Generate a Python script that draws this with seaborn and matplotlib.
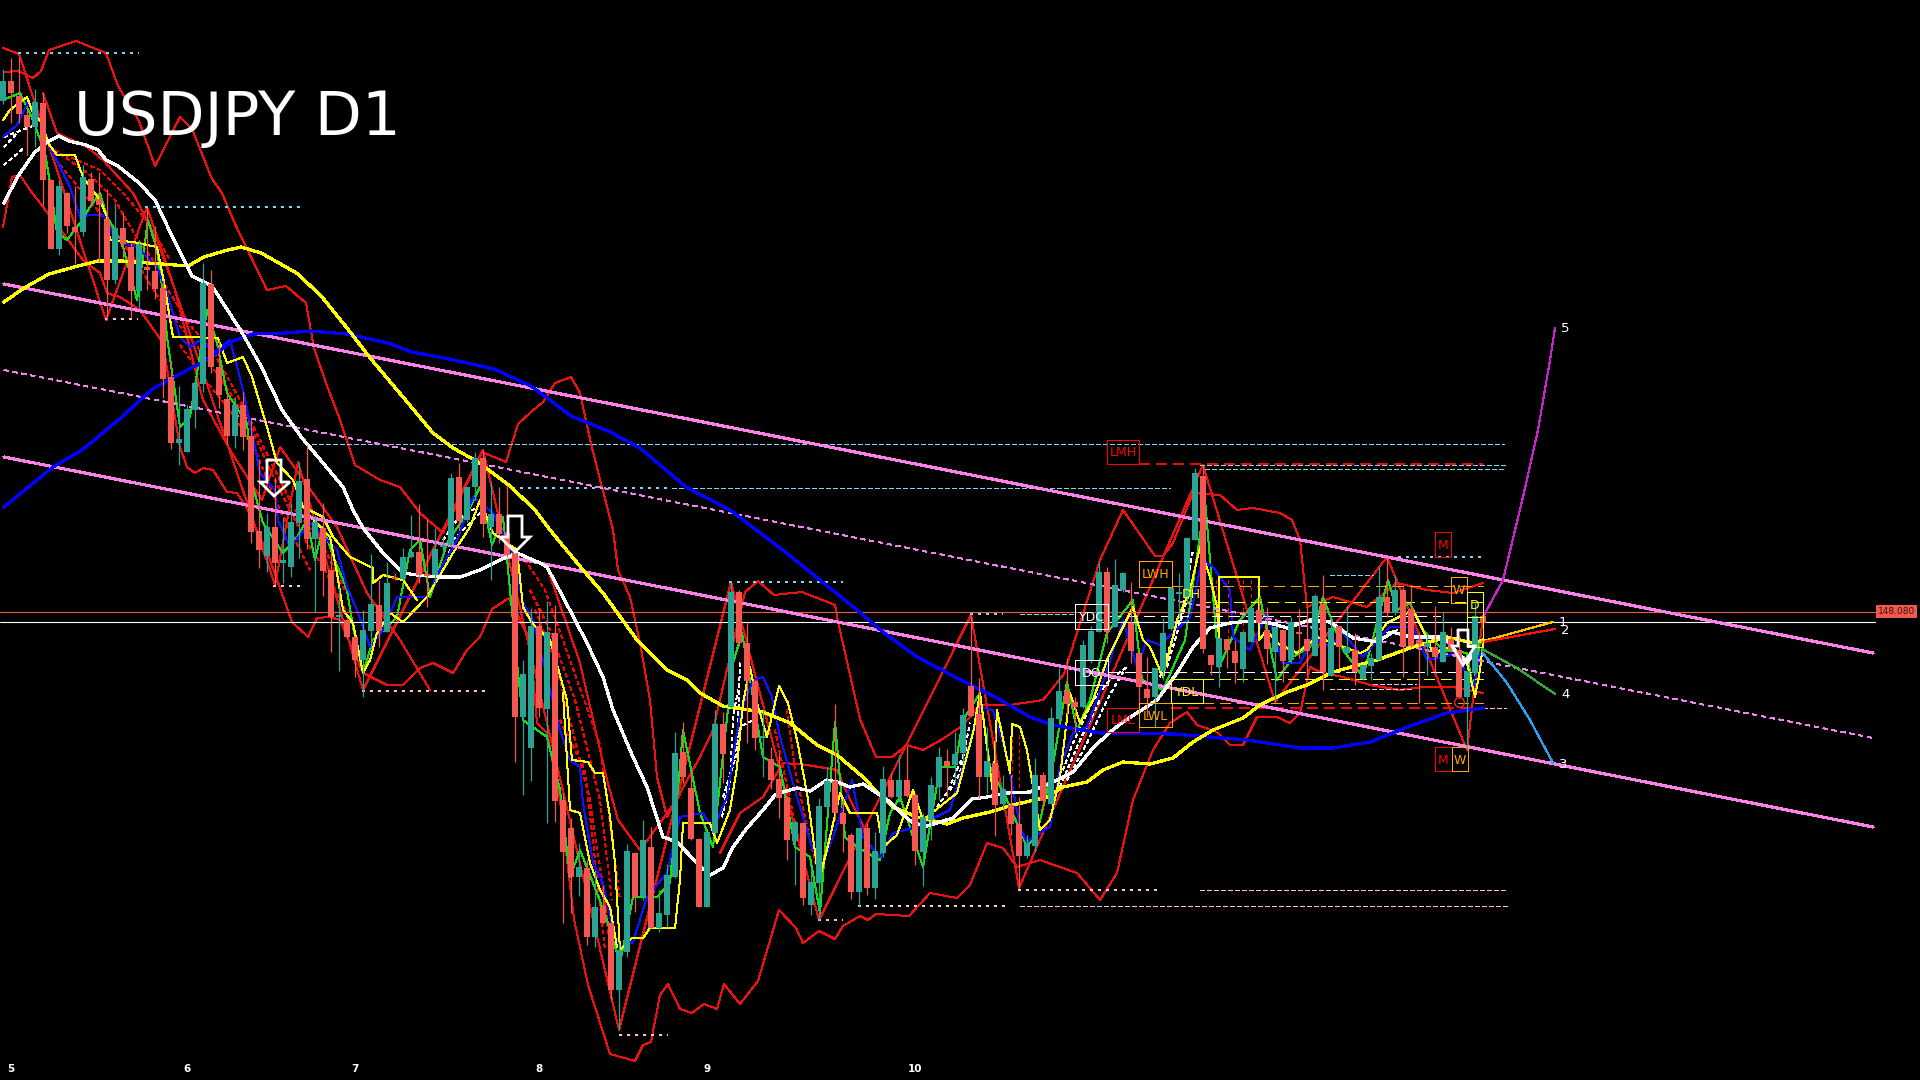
import matplotlib
matplotlib.use('Agg')
import matplotlib.pyplot as plt
import numpy as np
import seaborn as sns

# candles (vertical unit = chart row, grows downwards)
dirs = ('GRRRGRRGRR' 'GRRRGRRGRR' 'RRGGGGRRRG' 'RRRGRGGGRG' 'RRGRRGGRGR' 'GGRRGGGRGG'
        'RGRRRGGRGR' 'RRGRGRRGGR' 'GRGGGRRRGG' 'RGRRRGRRRG' 'RGGGRRRGRG' 'GRGRRGGGRG'
        'GRRGRGRRGG' 'RGGRRGGGRG' 'GRRRGGGGGG' 'RRGRRGGRRG' 'RGRRGRGRGR' 'GGGRGRRRGR' 'GRRGGR')
wick_top = [69, 58, 57, 110, 89, 93, 180, 180, 192, 186, 165, 172, 172, 189, 203, 213, 242, 240, 207, 226,
            280, 362, 386, 405, 377, 263, 270, 340, 392, 397, 392, 420, 460, 513, 477, 518, 503, 462, 445, 515,
            503, 550, 587, 618, 636, 610, 554, 580, 562, 573, 548, 515, 504, 519, 528, 537, 473, 463, 487, 452,
            450, 483, 487, 485, 552, 660, 608, 608, 601, 605, 793, 818, 843, 860, 870, 885, 923, 943, 844, 852,
            820, 827, 890, 864, 732, 722, 771, 838, 832, 710, 712, 582, 590, 622, 680, 710, 747, 753, 797, 821,
            822, 868, 798, 767, 704, 798, 833, 828, 823, 832, 766, 773, 755, 746, 793, 813, 777, 747, 749, 732,
            708, 615, 678, 727, 733, 775, 775, 797, 835, 758, 772, 707, 668, 658, 697, 640, 626, 562, 567, 559,
            572, 582, 653, 657, 668, 618, 588, 573, 537, 468, 465, 655, 638, 639, 640, 632, 608, 597, 607, 627,
            630, 617, 609, 607, 594, 575, 617, 626, 606, 633, 665, 653, 566, 557, 575, 587, 587, 633, 632, 606,
            612, 627, 635, 671, 602, 616]
body_top = [81, 81, 96, 115, 102, 103, 180, 186, 193, 227, 177, 179, 199, 219, 228, 228, 247, 244, 267, 271,
            288, 377, 439, 409, 383, 283, 284, 367, 399, 405, 405, 436, 531, 527, 527, 560, 522, 481, 479, 522,
            528, 570, 615, 620, 637, 630, 604, 605, 583, 577, 557, 552, 552, 574, 549, 545, 478, 477, 487, 458,
            458, 514, 514, 533, 553, 674, 626, 626, 632, 633, 800, 828, 867, 868, 907, 906, 923, 950, 851, 853,
            840, 847, 913, 875, 753, 752, 788, 839, 832, 724, 724, 592, 592, 643, 681, 736, 759, 779, 797, 822,
            823, 882, 806, 781, 781, 813, 835, 828, 828, 851, 779, 780, 780, 780, 795, 817, 785, 757, 761, 754,
            715, 686, 714, 761, 763, 789, 805, 824, 844, 775, 775, 718, 691, 691, 702, 645, 631, 572, 572, 585,
            573, 623, 653, 689, 668, 633, 588, 592, 538, 473, 476, 655, 638, 639, 651, 632, 608, 610, 630, 627,
            630, 622, 632, 639, 596, 604, 628, 626, 647, 650, 665, 658, 597, 597, 590, 590, 609, 640, 643, 647,
            632, 639, 650, 671, 616, 616]
body_bot = [101, 93, 114, 127, 127, 180, 249, 249, 226, 232, 232, 201, 205, 280, 280, 244, 291, 291, 270, 289,
            379, 443, 443, 452, 410, 384, 367, 395, 436, 436, 437, 532, 550, 556, 563, 563, 567, 523, 539, 539,
            571, 617, 617, 637, 660, 660, 631, 631, 632, 579, 579, 557, 575, 576, 575, 547, 545, 521, 520, 487,
            524, 527, 534, 555, 717, 717, 748, 708, 709, 801, 852, 877, 877, 937, 937, 923, 990, 990, 952, 897,
            896, 928, 928, 915, 877, 777, 839, 907, 907, 833, 754, 707, 643, 681, 738, 738, 780, 798, 840, 841,
            898, 905, 883, 807, 813, 824, 892, 892, 888, 888, 853, 797, 797, 796, 851, 852, 820, 787, 766, 765,
            753, 716, 777, 777, 805, 804, 824, 856, 856, 846, 801, 804, 719, 704, 707, 707, 660, 632, 632, 627,
            590, 651, 687, 698, 697, 671, 629, 594, 597, 540, 649, 665, 667, 650, 663, 669, 642, 623, 649, 652,
            661, 660, 634, 651, 656, 672, 676, 647, 653, 672, 679, 666, 660, 613, 613, 647, 646, 644, 647, 657,
            662, 650, 697, 697, 673, 623]
wick_bot = [104, 123, 123, 155, 147, 206, 249, 255, 233, 264, 236, 207, 262, 320, 284, 258, 317, 309, 290, 299,
            398, 449, 465, 452, 428, 392, 373, 408, 444, 448, 450, 543, 568, 572, 585, 583, 577, 558, 549, 612,
            596, 652, 671, 638, 677, 697, 648, 647, 632, 580, 580, 558, 583, 607, 585, 553, 547, 530, 522, 500,
            537, 580, 543, 557, 762, 795, 781, 717, 823, 822, 923, 913, 896, 945, 947, 924, 1000, 1030, 957, 912,
            900, 928, 932, 927, 878, 783, 840, 907, 907, 835, 783, 708, 646, 743, 750, 777, 789, 818, 860, 885,
            905, 915, 920, 810, 820, 852, 899, 906, 895, 899, 857, 798, 802, 797, 865, 886, 840, 800, 797, 783,
            763, 717, 798, 793, 836, 808, 835, 888, 858, 852, 810, 804, 720, 715, 732, 708, 663, 632, 643, 627,
            592, 663, 708, 717, 727, 680, 630, 617, 603, 540, 653, 675, 687, 668, 683, 682, 642, 623, 664, 702,
            682, 663, 658, 675, 656, 690, 676, 668, 654, 685, 680, 680, 660, 617, 615, 677, 647, 703, 675, 672,
            662, 652, 698, 750, 674, 624]

# month labels and the bars they sit on
month_bars = [1, 23, 44, 67, 88, 114]
month_names = ['5', '6', '7', '8', '9', '10']

# moving averages
ma_white = [(4, 203), (18, 176), (35, 152), (49, 141), (59, 136), (69, 141), (86, 145), (98, 150), (106, 160), (118, 166),
            (139, 183), (155, 200), (171, 234), (192, 276), (212, 286), (241, 331), (261, 366), (282, 410), (302, 438),
            (323, 463), (343, 487), (353, 510), (363, 528), (383, 553), (403, 573), (417, 575), (440, 577), (460, 577),
            (480, 570), (500, 560), (517, 553), (540, 563), (547, 567), (563, 597), (587, 643), (603, 677), (613, 710),
            (633, 757), (647, 787), (663, 837), (677, 842), (697, 863), (710, 875), (723, 868), (733, 847), (747, 828),
            (763, 810), (775, 795), (783, 792), (797, 788), (810, 791), (827, 780), (837, 782), (850, 787), (863, 784),
            (877, 793), (890, 802), (900, 812), (913, 823), (927, 826), (953, 818), (972, 799), (987, 797), (1007, 793),
            (1030, 792), (1057, 780), (1073, 772), (1093, 748), (1110, 732), (1123, 722), (1157, 700), (1177, 673),
            (1193, 647), (1210, 628), (1230, 623), (1250, 621), (1270, 623), (1287, 628), (1310, 620), (1330, 622),
            (1353, 638), (1377, 642), (1393, 632), (1410, 637), (1443, 637), (1457, 652), (1467, 663), (1477, 647)]
ma_yellow = [(4, 302), (24, 288), (49, 274), (78, 266), (98, 261), (122, 261), (188, 266), (204, 257), (224, 251), (241, 247),
             (261, 253), (286, 267), (298, 274), (322, 297), (347, 328), (371, 359), (408, 403), (433, 433), (453, 448),
             (478, 462), (510, 486), (535, 510), (550, 530), (583, 570), (603, 593), (637, 640), (667, 670), (687, 680),
             (700, 693), (723, 706), (763, 712), (790, 723), (817, 745), (837, 755), (863, 777), (877, 792), (893, 807),
             (917, 817), (947, 824), (963, 818), (990, 812), (1013, 805), (1047, 797), (1063, 787), (1087, 782), (1103, 770),
             (1123, 762), (1150, 764), (1173, 758), (1193, 742), (1213, 730), (1243, 718), (1260, 705), (1287, 692),
             (1307, 685), (1333, 672), (1377, 660), (1413, 647), (1447, 637), (1473, 643), (1483, 640)]
ma_blue = [(4, 507), (53, 467), (82, 450), (122, 417), (151, 390), (180, 374), (208, 359), (233, 341), (253, 334), (286, 333),
           (310, 331), (347, 334), (388, 343), (412, 352), (449, 359), (494, 369), (531, 386), (571, 416), (608, 431),
           (640, 448), (686, 487), (730, 510), (784, 551), (820, 580), (857, 610), (883, 632), (917, 657), (957, 678),
           (997, 698), (1030, 717), (1053, 725), (1100, 733), (1173, 734), (1247, 740), (1300, 748), (1333, 748),
           (1370, 742), (1413, 725), (1447, 713), (1483, 708)]

# thin red bands
band_upper = [(4, 72), (18, 71), (33, 78), (41, 71), (49, 50), (76, 41), (106, 53), (118, 86), (139, 121), (155, 166), (180, 117),
              (192, 129), (212, 179), (222, 193), (235, 224), (267, 290), (286, 286), (306, 303), (314, 348), (327, 386),
              (339, 417), (355, 465), (380, 480), (400, 487), (420, 513), (443, 533), (482, 452), (506, 462), (518, 424),
              (531, 412), (543, 402), (555, 383), (571, 377), (580, 393), (592, 448), (613, 530), (618, 570), (630, 597),
              (640, 643), (650, 700), (657, 777), (667, 817), (680, 793), (700, 757), (713, 730), (745, 592), (758, 581),
              (774, 595), (802, 592), (835, 605), (839, 626), (860, 719), (876, 757), (892, 757), (907, 745), (923, 750),
              (941, 740), (962, 726), (980, 705), (1010, 705), (1043, 700), (1064, 674), (1100, 560), (1123, 510),
              (1137, 530), (1155, 556), (1163, 556), (1173, 543), (1193, 493), (1220, 495), (1237, 510), (1253, 508),
              (1280, 513), (1292, 520), (1300, 540), (1307, 607), (1333, 597), (1367, 607), (1397, 583), (1427, 590),
              (1453, 593), (1483, 583)]
band_lower = [(3, 227), (12, 177), (20, 175), (30, 190), (63, 233), (83, 260), (100, 273), (107, 293), (120, 297), (140, 310),
              (163, 343), (172, 400), (180, 447), (187, 467), (195, 473), (203, 468), (213, 470), (227, 492), (237, 493),
              (247, 508), (270, 560), (292, 622), (308, 637), (317, 618), (330, 617), (340, 620), (363, 673), (387, 685),
              (403, 685), (420, 668), (433, 663), (453, 673), (467, 650), (480, 637), (492, 609), (509, 598), (530, 640),
              (537, 723), (547, 733), (560, 800), (570, 885), (574, 919), (588, 985), (610, 1054), (635, 1061), (643, 1045),
              (651, 1042), (660, 995), (668, 984), (680, 1009), (692, 1013), (704, 1004), (717, 1009), (724, 984), (740, 1004),
              (758, 981), (779, 910), (796, 928), (803, 943), (819, 931), (835, 939), (843, 926), (860, 916), (868, 920),
              (876, 914), (909, 916), (930, 893), (957, 898), (970, 885), (987, 843), (1003, 848), (1017, 867), (1040, 860),
              (1077, 873), (1100, 900), (1117, 873), (1133, 800), (1153, 750), (1170, 723), (1187, 712), (1197, 725),
              (1217, 732), (1230, 745), (1243, 745), (1257, 717), (1277, 717), (1290, 723), (1300, 713), (1310, 667),
              (1320, 672), (1347, 678), (1370, 685), (1400, 690), (1423, 687), (1453, 687), (1483, 693)]
band_mid_a = [(43, 93), (57, 133), (87, 147), (103, 160), (133, 193), (157, 240), (175, 290), (203, 400), (230, 450), (262, 500),
              (280, 447), (337, 527), (367, 593), (400, 640), (430, 690)]
band_mid_b = [(547, 567), (580, 663), (607, 780), (618, 820), (640, 850), (660, 823), (680, 795)]
band_mid_c = [(720, 853), (740, 813), (763, 797), (783, 763), (807, 765), (837, 770), (847, 793), (865, 830)]
zigzag = [(3, 48), (19, 54), (106, 320), (147, 207), (275, 585), (298, 462), (363, 690), (483, 450), (619, 1030), (731, 582),
          (819, 920), (971, 615), (1019, 888), (1203, 465), (1275, 702), (1387, 557), (1467, 750), (1483, 616)]

# thin fast lines following the candles
thin_yellow_a = [(3, 120), (10, 110), (20, 102), (27, 97), (33, 113), (42, 123), (48, 143), (57, 155), (75, 155), (83, 177), (100, 200),
                 (107, 217), (110, 240), (133, 242), (157, 247), (163, 277), (173, 337), (193, 337), (218, 338), (227, 363),
                 (243, 357), (252, 377), (267, 427), (277, 463), (293, 480), (303, 507), (323, 517), (333, 537), (350, 557),
                 (373, 568), (373, 583), (383, 575), (403, 580), (417, 600)]
thin_yellow_b = [(307, 513), (330, 537), (337, 573), (343, 610), (353, 623), (363, 673), (370, 660), (377, 633), (390, 613), (403, 622),
                 (427, 597), (453, 553), (470, 527), (480, 500), (493, 533), (517, 550), (523, 607), (532, 623), (550, 640),
                 (567, 700), (572, 760), (588, 762), (595, 773), (603, 773), (610, 817), (615, 863), (620, 950), (632, 938),
                 (643, 938), (650, 928), (675, 928), (680, 880), (683, 823), (710, 823), (717, 843), (730, 810), (737, 767),
                 (743, 703), (750, 667), (757, 703), (767, 737), (779, 686), (788, 703), (797, 740), (807, 793), (817, 867),
                 (820, 877), (830, 837), (840, 793), (850, 813), (877, 813), (883, 847), (897, 835), (913, 790), (923, 820),
                 (957, 793), (973, 733), (980, 693), (993, 793), (997, 710), (1010, 773), (1012, 724), (1020, 727), (1027, 750),
                 (1040, 830), (1050, 820), (1060, 777), (1070, 693), (1080, 723), (1093, 700), (1107, 660), (1120, 633),
                 (1133, 607), (1143, 640), (1150, 647), (1163, 677), (1177, 620), (1190, 590), (1200, 547), (1210, 577),
                 (1217, 607), (1219, 640), (1219, 577), (1259, 577), (1259, 640), (1267, 630), (1277, 643), (1297, 653),
                 (1317, 637), (1360, 653), (1367, 650), (1387, 623), (1413, 610), (1423, 630), (1433, 653), (1450, 647),
                 (1467, 663), (1475, 697), (1480, 670), (1483, 643)]
thin_yellow_c = [(563, 693), (570, 810), (580, 813), (590, 863), (600, 890), (610, 907), (617, 947)]
thin_blue = [(3, 137), (17, 125), (28, 102), (42, 123), (50, 147), (60, 167), (70, 187), (80, 217), (90, 215), (103, 215), (115, 237),
             (123, 243), (137, 247), (157, 267), (167, 293), (180, 337), (190, 347), (200, 340), (215, 352), (230, 340),
             (243, 390), (255, 447), (260, 473), (275, 490), (278, 520), (290, 547), (310, 523), (337, 550), (347, 587),
             (357, 610), (370, 647), (383, 630), (397, 597), (427, 597), (440, 570), (457, 540), (473, 497), (493, 513),
             (513, 553), (523, 603), (533, 620), (560, 730), (570, 760), (580, 767), (583, 803), (593, 863), (603, 883),
             (613, 930), (620, 948), (633, 942), (647, 897), (667, 873), (680, 817), (703, 813), (713, 830), (727, 797),
             (740, 713), (753, 680), (763, 677), (772, 697), (780, 737), (797, 797), (813, 850), (823, 863), (833, 837),
             (852, 780), (863, 837), (880, 857), (893, 833), (917, 827), (930, 820), (950, 810), (963, 767), (980, 707),
             (993, 710), (1007, 757), (1020, 827), (1027, 843), (1033, 837), (1050, 827), (1060, 767), (1073, 733),
             (1087, 727), (1103, 683), (1123, 620), (1137, 667), (1147, 640), (1160, 645), (1190, 617), (1202, 560),
             (1213, 567), (1220, 577), (1230, 590), (1233, 637), (1250, 650), (1267, 613), (1283, 663), (1300, 663),
             (1313, 637), (1330, 647), (1343, 633), (1363, 657), (1377, 640), (1390, 627), (1413, 627), (1427, 660),
             (1443, 657), (1457, 653), (1473, 690), (1480, 653)]
thin_green = [(3, 100), (20, 93), (33, 120), (45, 153), (50, 183), (57, 233), (67, 240), (80, 223), (90, 207), (100, 193), (107, 217),
              (115, 230), (123, 247), (137, 300), (148, 220), (157, 250), (163, 293), (167, 337), (180, 427), (190, 417),
              (207, 310), (217, 343), (227, 393), (247, 423), (253, 487), (263, 523), (283, 553), (297, 537), (307, 520),
              (315, 560), (323, 527), (332, 553), (347, 590), (353, 627), (363, 673), (373, 640), (397, 617), (410, 550),
              (420, 540), (430, 597), (447, 543), (467, 513), (480, 487), (492, 545), (503, 517), (517, 663), (523, 720),
              (547, 737), (560, 790), (570, 877), (580, 850), (597, 893), (607, 920), (620, 963), (633, 897), (657, 897),
              (670, 883), (683, 730), (700, 813), (713, 847), (733, 663), (742, 633), (750, 680), (763, 757), (780, 767),
              (795, 847), (810, 857), (820, 913), (835, 722), (845, 837), (857, 847), (880, 860), (890, 813), (900, 797),
              (923, 867), (940, 767), (955, 767), (963, 720), (980, 693), (990, 767), (1007, 800), (1027, 847), (1037, 833),
              (1052, 770), (1067, 682), (1077, 730), (1090, 700), (1107, 633), (1133, 600), (1142, 680), (1163, 690),
              (1185, 640), (1205, 500), (1219, 667), (1240, 620), (1260, 597), (1277, 680), (1293, 657), (1310, 647),
              (1323, 597), (1343, 650), (1363, 677), (1388, 580), (1397, 610), (1410, 603), (1423, 630), (1443, 650),
              (1467, 653), (1473, 690), (1480, 640)]

# dashed ribbons
ribbons_red = [
    [(55, 150), (90, 175), (115, 200), (135, 235), (160, 270)],
    [(65, 155), (100, 170), (125, 195), (150, 225), (170, 260)],
    [(60, 165), (85, 195), (110, 225), (135, 260), (160, 300)],
    [(165, 285), (190, 325), (215, 355), (240, 400), (265, 450), (290, 500)],
    [(175, 320), (200, 350), (225, 385), (250, 425), (270, 470), (300, 530)],
    [(180, 345), (205, 380), (230, 410), (255, 450), (280, 510), (310, 570)],
    [(295, 510), (320, 540), (345, 590)],
    [(305, 540), (325, 570), (345, 610)],
    [(525, 560), (545, 590), (570, 660), (600, 745), (620, 900)],
    [(530, 590), (550, 630), (575, 700), (600, 800), (612, 900)],
    [(535, 610), (555, 660), (575, 740), (590, 800), (605, 900), (610, 950)],
    [(560, 720), (585, 770), (595, 860), (605, 950)],
    [(787, 710), (795, 770), (810, 840), (820, 880)],
    [(775, 730), (790, 800), (805, 870)],
    [(1012, 725), (1012, 785)],
    [(1019, 735), (1019, 790)],
    [(1216, 580), (1216, 640)],
    [(1228, 580), (1228, 640)],
    [(1243, 580), (1243, 640)],
    [(1251, 580), (1251, 640)],
]
ribbons_white = [
    [(4, 165), (25, 147)],
    [(4, 147), (20, 130)],
    [(4, 137), (35, 125)],
    [(447, 560), (453, 540), (473, 520), (480, 513)],
    [(443, 540), (457, 520), (477, 507)],
    [(722, 817), (730, 783), (733, 717), (738, 690)],
    [(722, 813), (730, 777), (740, 727), (753, 720)],
    [(723, 797), (737, 753), (740, 663)],
    [(950, 790), (960, 773), (970, 723)],
    [(937, 807), (947, 793), (967, 747)],
    [(1063, 770), (1073, 743), (1093, 700), (1110, 680), (1127, 667)],
    [(1060, 787), (1080, 740), (1100, 700)],
    [(1067, 780), (1087, 743), (1107, 700), (1123, 672)],
    [(1160, 677), (1173, 637), (1183, 610), (1193, 550)],
    [(1167, 667), (1180, 623), (1190, 590)],
    [(1387, 633), (1398, 630)],
]

# channel
channel_upper = [(4, 284), (1873, 653)]
channel_mid = [(4, 370), (1873, 738)]
channel_lower = [(4, 457), (1873, 827)]

# level lines: (row, start, end)
price_line = 612
last_line = 622
dots_cyan = [(53, 18, 139), (207, 145, 300), (488, 512, 668), (582, 729, 843), (614, 970, 1003), (557, 1390, 1483)]
dash_cyan = [(444, 312, 1504), (465, 1200, 1506), (469, 1205, 1506), (488, 672, 1170), (614, 1020, 1075), (575, 1330, 1373)]
dots_pink = [(319, 105, 138), (586, 273, 300), (691, 362, 490), (1035, 619, 668), (920, 818, 843), (906, 858, 1010), (890, 1018, 1160)]
dash_pink = [(906, 1020, 1507), (890, 1200, 1505), (708, 1483, 1506), (689, 1330, 1413), (684, 1373, 1416)]
dash_red = [(464, 1139, 1483), (708, 1171, 1483)]
dash_orange = [(586, 1172, 1483), (703, 1203, 1483)]
dash_yellow = [(602, 1200, 1483), (679, 1203, 1483)]
dash_white = [(616, 1110, 1440), (672, 1108, 1483)]

# forecast paths on the right
path_1 = [(1480, 642), (1553, 622)]
path_2 = [(1483, 642), (1555, 629)]
path_3 = [(1482, 652), (1507, 683), (1530, 720), (1553, 763)]
path_4 = [(1482, 649), (1517, 668), (1555, 694)]
path_5 = [(1483, 617), (1503, 580), (1523, 497), (1538, 430), (1550, 360), (1555, 328)]
path_names = ['1', '2', '3', '4', '5']

# label boxes: text, left, top, right, bottom, colour
boxes = [('LMH', 1107, 440, 1139, 464, '#ff0000'), ('LWH', 1139, 561, 1172, 587, '#ffa500'),
         ('YDC', 1075, 604, 1108, 629, '#ffffff'), ('DO', 1075, 660, 1108, 685, '#ffffff'),
         ('LML', 1107, 708, 1139, 732, '#ff0000'), ('LWL', 1139, 703, 1172, 727, '#ffa500'),
         ('YDL', 1171, 679, 1203, 703, '#ffff00'), ('M', 1435, 532, 1451, 557, '#ff0000'),
         ('W', 1451, 577, 1467, 603, '#ffa500'), ('D', 1467, 592, 1483, 617, '#ffff00'),
         ('M', 1435, 747, 1452, 771, '#ff0000'), ('W', 1452, 747, 1468, 771, '#ffa500')]
# arrows: shaft left, shaft right, top, head row, head left, head right, tip
arrows = [(267, 281, 460, 482, 260, 290, 496), (508, 522, 516, 537, 500, 530, 552), (1458, 1468, 630, 646, 1452, 1475, 665)]

sns.set_theme(style='dark', rc={'axes.facecolor': 'black', 'figure.facecolor': 'black'})
plt.rcParams['lines.scale_dashes'] = False

fig = plt.figure(figsize=(19.2, 10.8), dpi=100)
ax = fig.add_axes([0, 0, 1, 1])
ax.set_xlim(0, 1920)
ax.set_ylim(1080, 0)
ax.axis('off')


def draw(pts, color, lw=0.72, ls='-', z=2):
    pts = np.array(pts)
    sns.lineplot(x=pts[:, 0], y=pts[:, 1], color=color, linewidth=lw, linestyle=ls, sort=False,
                 estimator=None, legend=False, ax=ax, zorder=z, antialiased=False)


def levels(rows, color, ls, lw=0.72, z=2):
    for y, x0, x1 in rows:
        ax.plot([x0, x1], [y, y], color=color, linestyle=ls, linewidth=lw, zorder=z, antialiased=False)


DOT = (0, (1.5, 4.3))
DASH = (0, (3, 2))
LONG = (0, (7.5, 5))
RIB = (0, (2.2, 2.2))

# thin stuff first
for line in [band_upper, band_lower, band_mid_a, band_mid_b, band_mid_c, zigzag]:
    draw(line, '#ee1111')
for line in ribbons_red:
    draw(line, '#ff0000', 0.72, RIB)
for line in ribbons_white:
    draw(line, '#ffffff', 0.72, RIB)
draw(thin_green, '#11e011')
draw(thin_blue, '#1111ff')
for line in [thin_yellow_a, thin_yellow_b, thin_yellow_c]:
    draw(line, '#ffff00')

levels(dots_cyan, '#7fd4f0', DOT, 1.4)
levels(dash_cyan, '#7fd4f0', DASH)
levels(dots_pink, '#ffc8c8', DOT, 1.4)
levels(dash_pink, '#ffc0e0', DASH)
levels(dash_red, '#ff0000', LONG, 1.1)
levels(dash_orange, '#ffa500', LONG)
levels(dash_yellow, '#ffff00', LONG)
levels(dash_white, '#ffffff', LONG)

ax.plot([0, 1875], [price_line, price_line], color='#e8604c', linewidth=0.8, zorder=3)
ax.plot([0, 1875], [last_line, last_line], color='#ffffff', linewidth=0.8, zorder=3)

draw(channel_upper, '#ff80e8', 1.5, z=3)
draw(channel_lower, '#ff80e8', 1.5, z=3)
draw(channel_mid, '#ee82ee', 0.72, (0, (3, 3)), z=3)

draw(ma_blue, '#0000ff', 1.6, z=3)
draw(ma_yellow, '#ffff00', 1.6, z=3)
draw(ma_white, '#ffffff', 1.6, z=3)

# candles
bars = np.arange(len(dirs)) * 8 + 3.3
up = np.array([d == 'G' for d in dirs])
colors = np.where(up, '#2ba392', '#f4574f')
ax.vlines(bars, wick_top, wick_bot, colors=colors, linewidth=0.9, zorder=5)
ax.bar(bars, np.maximum(np.array(body_bot) - np.array(body_top), 2), bottom=body_top, width=6.2,
       color=colors, linewidth=0, zorder=5)

# forecast paths
for path, col, name in zip([path_1, path_2, path_3, path_4, path_5],
                           ['#ffc000', '#ff1010', '#2aa0f0', '#33aa33', '#cc22cc'], path_names):
    draw(path, col, 0.8, z=4)
    ax.text(path[-1][0] + 6, path[-1][1] + 1, name, color='white', fontsize=9.5, ha='left', va='center', zorder=7)

for name, x0, y0, x1, y1, col in boxes:
    ax.plot([x0, x1, x1, x0, x0], [y0, y0, y1, y1, y0], color=col, linewidth=0.7, zorder=6, antialiased=False)
    ax.text((x0 + x1) / 2, (y0 + y1) / 2 + 1, name, color=col, fontsize=9, ha='center', va='center', zorder=6)
ax.text(1191, 595, 'DH', color='#ffff00', fontsize=9, ha='center', va='center', zorder=6)
ax.plot([1467, 1483, 1483, 1467, 1467], [617, 617, 647, 647, 617], color='#ffff00', linewidth=0.7, zorder=6,
        antialiased=False)
ax.plot([1459], [702], marker='o', ms=7, mfc='none', mec='#ff2020', mew=1, zorder=6)

for sl, sr, top, head, hl, hr, tip in arrows:
    ax.plot([sl, sr, sr, hr, (sl + sr) / 2, hl, sl, sl], [top, top, head, head, tip, head, head, top],
            color='white', linewidth=2.0, zorder=7, solid_joinstyle='miter')

# last price tag
ax.text(1896.5, 611.5, '148.080', color='#3a1010', fontsize=6.5, ha='center', va='center', zorder=8,
        bbox=dict(boxstyle='square,pad=0.25', fc='#f0584c', ec='none'))

for b, name in zip(month_bars, month_names):
    ax.text(b * 8 + 3.3, 1069, name, color='white', fontsize=7.5, fontweight='bold', ha='center', va='center')

ax.text(74, 119, 'USDJPY D1', color='white', fontsize=44, ha='left', va='center', family='DejaVu Sans')

fig.savefig('out.png', dpi=100, facecolor='black')
